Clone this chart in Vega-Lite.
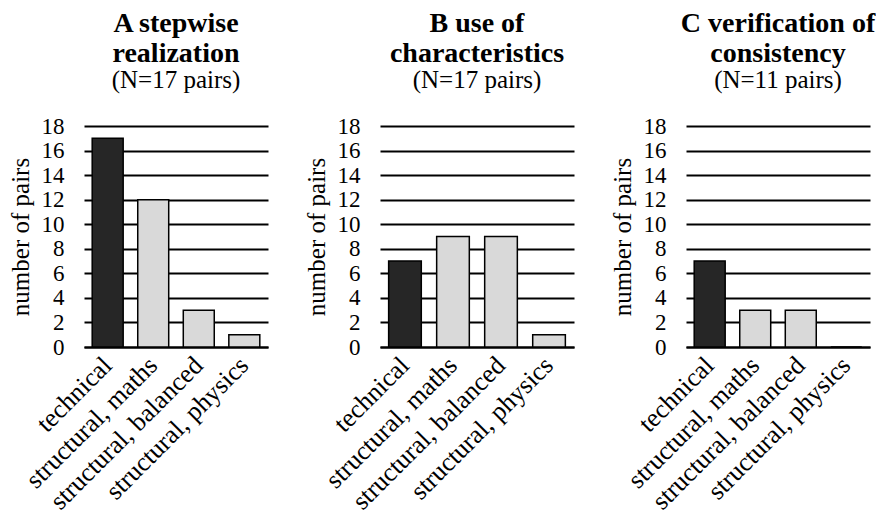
{
  "$schema": "https://vega.github.io/schema/vega-lite/v6.json",
  "padding": {"left": 8, "top": 10, "right": 0, "bottom": 0},
  "background": "white",
  "data": {"values": [
    {"panel": "A", "category": "technical", "pairs": 17},
    {"panel": "A", "category": "structural, maths", "pairs": 12},
    {"panel": "A", "category": "structural, balanced", "pairs": 3},
    {"panel": "A", "category": "structural, physics", "pairs": 1},
    {"panel": "B", "category": "technical", "pairs": 7},
    {"panel": "B", "category": "structural, maths", "pairs": 9},
    {"panel": "B", "category": "structural, balanced", "pairs": 9},
    {"panel": "B", "category": "structural, physics", "pairs": 1},
    {"panel": "C", "category": "technical", "pairs": 7},
    {"panel": "C", "category": "structural, maths", "pairs": 3},
    {"panel": "C", "category": "structural, balanced", "pairs": 3},
    {"panel": "C", "category": "structural, physics", "pairs": 0}
  ]},
  "spacing": 36,
  "hconcat": [
    {
      "title": {"text": ["A stepwise", "realization"], "subtitle": "(N=17 pairs)",
                "font": "Liberation Serif", "fontSize": 28, "fontWeight": "bold", "lineHeight": 30, "color": "black",
                "subtitleFont": "Liberation Serif", "subtitleFontSize": 25, "subtitleColor": "black", "subtitlePadding": 0,
                "offset": 22, "anchor": "middle"},
      "width": 184, "height": 221,
      "transform": [{"filter": "datum.panel === 'A'"}],
      "mark": {"type": "bar", "stroke": "black", "strokeWidth": 1.5},
      "encoding": {
        "x": {"field": "category", "type": "nominal", "sort": null, "title": null,
              "scale": {"paddingInner": 0.32, "paddingOuter": 0.18},
              "axis": {"labelFont": "Liberation Serif", "labelFontSize": 26, "labelAngle": -45, "labelLimit": 0,
                       "labelAlign": "right", "labelBaseline": "middle", "labelPadding": 14, "labelColor": "black",
                       "ticks": false, "domain": true, "domainColor": "black", "domainWidth": 2, "grid": false}},
        "y": {"field": "pairs", "type": "quantitative", "title": "number of pairs",
              "scale": {"domain": [0, 18], "nice": false},
              "axis": {"values": [0,2,4,6,8,10,12,14,16,18], "labelFont": "Liberation Serif", "labelFontSize": 23,
                       "labelColor": "black", "labelPadding": 20, "titleFont": "Liberation Serif", "titleFontSize": 25,
                       "titleFontWeight": "normal", "titleColor": "black", "titlePadding": 8,
                       "ticks": false, "domain": false, "grid": true, "gridColor": "black", "gridWidth": 2, "gridOpacity": 1}},
        "color": {"field": "category", "type": "nominal", "legend": null,
                  "scale": {"domain": ["technical", "structural, maths", "structural, balanced", "structural, physics"],
                            "range": ["#262626", "#d9d9d9", "#d9d9d9", "#d9d9d9"]}}
      }
    },
    {
      "title": {"text": ["B use of", "characteristics"], "subtitle": "(N=17 pairs)",
                "font": "Liberation Serif", "fontSize": 28, "fontWeight": "bold", "lineHeight": 30, "color": "black",
                "subtitleFont": "Liberation Serif", "subtitleFontSize": 25, "subtitleColor": "black", "subtitlePadding": 0,
                "offset": 22, "anchor": "middle"},
      "width": 194, "height": 221,
      "transform": [{"filter": "datum.panel === 'B'"}],
      "mark": {"type": "bar", "stroke": "black", "strokeWidth": 1.5},
      "encoding": {
        "x": {"field": "category", "type": "nominal", "sort": null, "title": null,
              "scale": {"paddingInner": 0.32, "paddingOuter": 0.18},
              "axis": {"labelFont": "Liberation Serif", "labelFontSize": 26, "labelAngle": -45, "labelLimit": 0,
                       "labelAlign": "right", "labelBaseline": "middle", "labelPadding": 14, "labelColor": "black",
                       "ticks": false, "domain": true, "domainColor": "black", "domainWidth": 2, "grid": false}},
        "y": {"field": "pairs", "type": "quantitative", "title": "number of pairs",
              "scale": {"domain": [0, 18], "nice": false},
              "axis": {"values": [0,2,4,6,8,10,12,14,16,18], "labelFont": "Liberation Serif", "labelFontSize": 23,
                       "labelColor": "black", "labelPadding": 20, "titleFont": "Liberation Serif", "titleFontSize": 25,
                       "titleFontWeight": "normal", "titleColor": "black", "titlePadding": 8,
                       "ticks": false, "domain": false, "grid": true, "gridColor": "black", "gridWidth": 2, "gridOpacity": 1}},
        "color": {"field": "category", "type": "nominal", "legend": null,
                  "scale": {"domain": ["technical", "structural, maths", "structural, balanced", "structural, physics"],
                            "range": ["#262626", "#d9d9d9", "#d9d9d9", "#d9d9d9"]}}
      }
    },
    {
      "title": {"text": ["C verification of", "consistency"], "subtitle": "(N=11 pairs)",
                "font": "Liberation Serif", "fontSize": 28, "fontWeight": "bold", "lineHeight": 30, "color": "black",
                "subtitleFont": "Liberation Serif", "subtitleFontSize": 25, "subtitleColor": "black", "subtitlePadding": 0,
                "offset": 22, "anchor": "middle"},
      "width": 184, "height": 221,
      "transform": [{"filter": "datum.panel === 'C'"}],
      "mark": {"type": "bar", "stroke": "black", "strokeWidth": 1.5},
      "encoding": {
        "x": {"field": "category", "type": "nominal", "sort": null, "title": null,
              "scale": {"paddingInner": 0.32, "paddingOuter": 0.18},
              "axis": {"labelFont": "Liberation Serif", "labelFontSize": 26, "labelAngle": -45, "labelLimit": 0,
                       "labelAlign": "right", "labelBaseline": "middle", "labelPadding": 14, "labelColor": "black",
                       "ticks": false, "domain": true, "domainColor": "black", "domainWidth": 2, "grid": false}},
        "y": {"field": "pairs", "type": "quantitative", "title": "number of pairs",
              "scale": {"domain": [0, 18], "nice": false},
              "axis": {"values": [0,2,4,6,8,10,12,14,16,18], "labelFont": "Liberation Serif", "labelFontSize": 23,
                       "labelColor": "black", "labelPadding": 20, "titleFont": "Liberation Serif", "titleFontSize": 25,
                       "titleFontWeight": "normal", "titleColor": "black", "titlePadding": 8,
                       "ticks": false, "domain": false, "grid": true, "gridColor": "black", "gridWidth": 2, "gridOpacity": 1}},
        "color": {"field": "category", "type": "nominal", "legend": null,
                  "scale": {"domain": ["technical", "structural, maths", "structural, balanced", "structural, physics"],
                            "range": ["#262626", "#d9d9d9", "#d9d9d9", "#d9d9d9"]}}
      }
    }
  ],
  "resolve": {"scale": {"y": "independent", "x": "independent"}},
  "config": {
    "view": {"stroke": null}
  }
}
